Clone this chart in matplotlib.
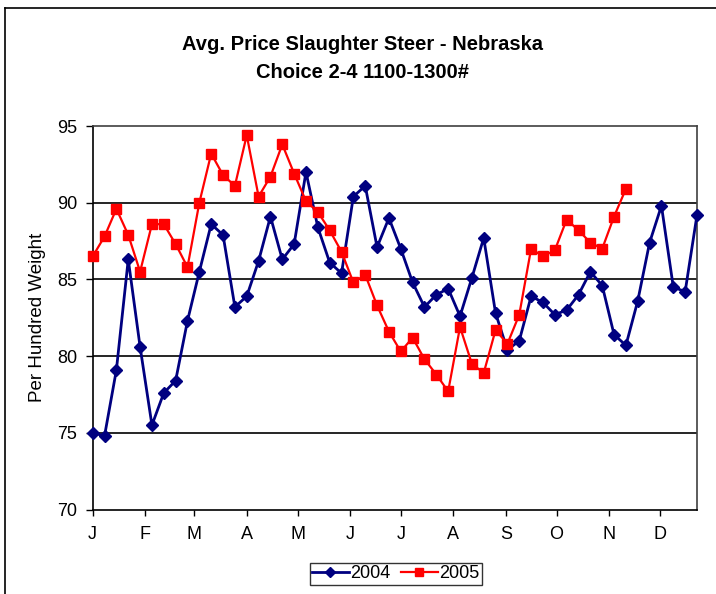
import matplotlib
matplotlib.use("Agg")
import matplotlib.pyplot as plt
from matplotlib.lines import Line2D
import numpy as np

plt.rcParams['font.family'] = ['Liberation Sans', 'DejaVu Sans']

month_labels = ['J', 'F', 'M', 'A', 'M', 'J', 'J', 'A', 'S', 'O', 'N', 'D']
month_starts = [0, 31, 60, 91, 121, 152, 182, 213, 244, 274, 305, 335]

price_2004 = [75.0, 74.8, 79.1, 86.3, 80.6, 75.5, 77.6, 78.4, 82.3, 85.5,
              88.6, 87.9, 83.2, 83.9, 86.2, 89.1, 86.3, 87.3, 92.0, 88.4,
              86.1, 85.4, 90.4, 91.1, 87.1, 89.0, 87.0, 84.8, 83.2, 84.0,
              84.4, 82.6, 85.1, 87.7, 82.8, 80.4, 81.0, 83.9, 83.5, 82.7,
              83.0, 84.0, 85.5, 84.6, 81.4, 80.7, 83.6, 87.4, 89.8, 84.5,
              84.2, 89.2]
price_2005 = [86.5, 87.8, 89.6, 87.9, 85.5, 88.6, 88.6, 87.3, 85.8, 90.0,
              93.2, 91.8, 91.1, 94.4, 90.4, 91.7, 93.8, 91.9, 90.1, 89.4,
              88.2, 86.8, 84.8, 85.3, 83.3, 81.6, 80.3, 81.2, 79.8, 78.8,
              77.7, 81.9, 79.5, 78.9, 81.7, 80.8, 82.7, 87.0, 86.5, 86.9,
              88.9, 88.2, 87.4, 87.0, 89.1, 90.9]

days_2004 = 7 * np.arange(len(price_2004))
days_2005 = 7 * np.arange(len(price_2005))

W, H = 716, 594
fig = plt.figure(figsize=(W / 100, H / 100), dpi=100)

# outer chart frame (left and top edges visible)
fig.add_artist(Line2D([5 / W, 5 / W], [0, 1 - 8 / H], color='black', lw=1.2,
                      transform=fig.transFigure))
fig.add_artist(Line2D([5 / W, 1], [1 - 8 / H, 1 - 8 / H], color='black', lw=1.2,
                      transform=fig.transFigure))

left, right, top, bottom = 92.7, 697, 126, 509.5
ax = fig.add_axes([left / W, 1 - bottom / H, (right - left) / W, (bottom - top) / H])

ax.plot(days_2004, price_2004, color='#000080', lw=2, marker='D', ms=6.5,
        mec='#000080', mfc='#000080', label='2004', zorder=3, clip_on=False)
ax.plot(days_2005, price_2005, color='#FF0000', lw=1.6, marker='s', ms=6.5,
        mec='#FF0000', mfc='#FF0000', label='2005', zorder=4, clip_on=False)

ax.set_xlim(0, 357)
ax.set_ylim(70, 95)
ax.set_yticks([70, 75, 80, 85, 90, 95])
ax.set_xticks(month_starts)
ax.set_xticklabels(month_labels)
ax.tick_params(axis='both', labelsize=13, direction='out', width=1, colors='black')
ax.tick_params(axis='x', length=4, pad=8)
ax.tick_params(axis='y', length=5, pad=6)

for y in [75, 80, 85, 90]:
    ax.axhline(y, color='black', lw=1.2, zorder=1)
for s in ['top', 'right']:
    ax.spines[s].set_color('#404040')
    ax.spines[s].set_linewidth(1.2)
for s in ['left', 'bottom']:
    ax.spines[s].set_color('black')
    ax.spines[s].set_linewidth(1.2)

ax.set_ylabel('Per Hundred Weight', fontsize=13.5)
ax.yaxis.set_label_coords((46 - left) / (right - left), 0.5)

fig.text(363 / W, 1 - 44 / H, 'Avg. Price Slaughter Steer - Nebraska',
         ha='center', va='center', fontsize=14.5, fontweight='bold')
fig.text(363 / W, 1 - 72 / H, 'Choice 2-4 1100-1300#',
         ha='center', va='center', fontsize=14.5, fontweight='bold')

leg = fig.legend(loc='center', bbox_to_anchor=(396 / W, 1 - 574 / H), ncol=2,
                 fontsize=13, frameon=True, fancybox=False, edgecolor='black',
                 handlelength=2.0, handletextpad=0.1, columnspacing=0.6,
                 borderpad=0.15, borderaxespad=0, markerscale=0.8)
leg.get_frame().set_linewidth(1.0)

fig.savefig('out.png', dpi=100)
